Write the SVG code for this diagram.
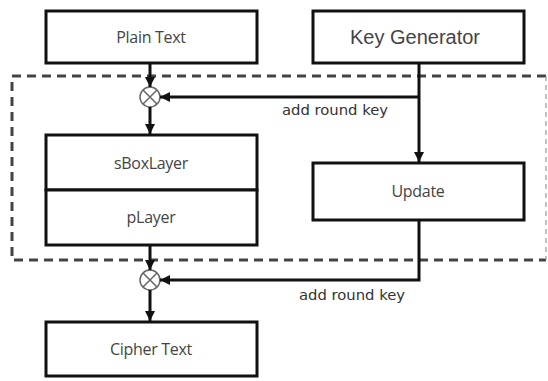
<svg xmlns="http://www.w3.org/2000/svg" width="548" height="381" viewBox="0 0 548 381">
<defs>
<marker id="arr" markerUnits="userSpaceOnUse" markerWidth="10" markerHeight="10" viewBox="0 0 10 10" refX="10" refY="5" orient="auto">
<path d="M0,0 L10,5 L0,10 z" fill="#111"/>
</marker>
<style>
.box{fill:#fff;stroke:#111;stroke-width:3}
.lbl{font-family:"Open Sans","Noto Sans",sans-serif;font-size:16px;fill:#444;text-anchor:middle;letter-spacing:-0.3px}
.big{font-family:"Liberation Sans",Arial,sans-serif;font-size:20px;fill:#444;text-anchor:middle}
.key{font-family:"DejaVu Sans",Verdana,sans-serif;font-size:14.8px;fill:#333}
.con{fill:none;stroke:#111;stroke-width:3}
.xor{fill:#fff;stroke:#666;stroke-width:1.5}
</style>
</defs>
<rect width="548" height="381" fill="#fff"/>
<g id="round">
<path d="M546,76 H12 V260 H546" fill="none" stroke="#444" stroke-width="3" stroke-dasharray="9,6"/>
<line x1="546" y1="76" x2="546" y2="260" stroke="#999" stroke-width="1.2" stroke-dasharray="5,4"/>
</g>
<g id="plain"><rect class="box" x="46" y="11" width="211" height="52"/><text class="lbl" x="151" y="43">Plain Text</text></g>
<g id="keygen"><rect class="box" x="313" y="11" width="211" height="52"/><text class="big" x="415" y="44">Key Generator</text></g>
<g id="sbox"><rect class="box" x="46" y="135" width="211" height="55"/><text class="lbl" x="151" y="169">sBoxLayer</text></g>
<g id="player"><rect class="box" x="46" y="190" width="211" height="55"/><text class="lbl" x="151" y="223">pLayer</text></g>
<g id="update"><rect class="box" x="313" y="163" width="211" height="57"/><text class="lbl" x="418" y="197">Update</text></g>
<g id="cipher"><rect class="box" x="46" y="322" width="211" height="54"/><text class="lbl" x="151" y="355">Cipher Text</text></g>
<g id="xor1"><circle class="xor" cx="150" cy="97" r="10"/><path d="M143,90 L157,104 M157,90 L143,104" stroke="#666" stroke-width="1.5"/></g>
<g id="xor2"><circle class="xor" cx="150" cy="280" r="10"/><path d="M143,273 L157,287 M157,273 L143,287" stroke="#666" stroke-width="1.5"/></g>
<g id="connectors">
<line class="con" x1="150" y1="63" x2="150" y2="87" marker-end="url(#arr)"/>
<line class="con" x1="150" y1="107" x2="150" y2="134" marker-end="url(#arr)"/>
<line class="con" x1="419" y1="63" x2="419" y2="162" marker-end="url(#arr)"/>
<line class="con" x1="419" y1="97" x2="160" y2="97" marker-end="url(#arr)"/>
<path class="con" d="M419,220 V280 H160" marker-end="url(#arr)"/>
<line class="con" x1="150" y1="245" x2="150" y2="270" marker-end="url(#arr)"/>
<line class="con" x1="150" y1="290" x2="150" y2="321" marker-end="url(#arr)"/>
<text class="key" x="282" y="115">add round key</text>
<text class="key" x="299" y="300">add round key</text>
</g>
</svg>
